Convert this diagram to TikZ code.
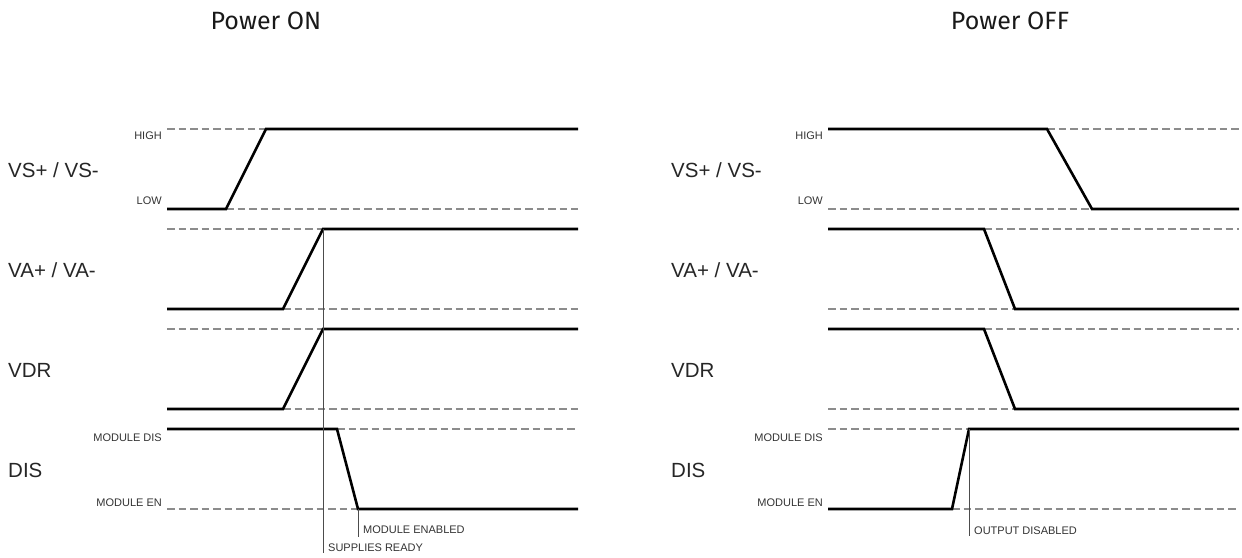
\documentclass[tikz,border=0pt]{standalone}
\usepackage{fontspec}
\setmainfont{Liberation Sans}
\newfontfamily\titlefont{Fira Sans}
\begin{document}
\begin{tikzpicture}[x=1pt,y=-1pt,
  sig/.style={line width=2.6pt, black, line join=miter},
  refline/.style={line width=1.1pt, black!45, dash pattern=on 7.5pt off 4pt},
  marker/.style={line width=0.9pt, black!70},
  siglabel/.style={anchor=west, inner sep=0pt, font=\fontsize{20.5}{24}\selectfont, text=black!85},
  lvl/.style={anchor=east, inner sep=0pt, font=\fontsize{11}{13}\selectfont, text=black!80},
  note/.style={anchor=west, inner sep=0pt, font=\fontsize{11}{13}\selectfont, text=black!80},
  ttl/.style={inner sep=0pt, font=\titlefont\fontsize{25}{30}\selectfont, text=black!90}]
\useasboundingbox (0,0) rectangle (1242,557);

% titles
\node[ttl] (t1) at (266,21) {Power ON};
\node[ttl] (t2) at (1010,21) {Power OFF};

% ===== left panel: Power ON =====
\node[siglabel] (lvs) at (8,170) {VS+ / VS-};
\node[siglabel] (lva) at (8,270) {VA+ / VA-};
\node[siglabel] (lvdr) at (8,370) {VDR};
\node[siglabel] (ldis) at (8,470) {DIS};
\node[lvl] (lhigh) at (162,136) {HIGH};
\node[lvl] (llow) at (162,201) {LOW};
\node[lvl] (lmdis) at (162,438) {MODULE DIS};
\node[lvl] (lmen) at (162,503) {MODULE EN};

\draw[refline] (167,129) -- (266,129);
\draw[refline] (226,209) -- (578,209);
\draw[sig] (167,209) -- (226,209) -- (266,129) -- (578,129);

\draw[refline] (167,229) -- (323,229);
\draw[refline] (283,309) -- (578,309);
\draw[sig] (167,309) -- (283,309) -- (323,229) -- (578,229);

\draw[refline] (167,329) -- (323,329);
\draw[refline] (283,409) -- (578,409);
\draw[sig] (167,409) -- (283,409) -- (323,329) -- (578,329);

\draw[refline] (337,429) -- (578,429);
\draw[refline] (167,509) -- (358,509);
\draw[sig] (167,429) -- (337,429) -- (358,509) -- (578,509);

\coordinate (srtop) at (323,229);
\coordinate (srbot) at (323,553);
\coordinate (metop) at (358,509);
\coordinate (mebot) at (358,537);
\draw[marker] (srtop) -- (srbot);
\draw[marker] (metop) -- (mebot);
\node[note] (sr) at (328,548) {SUPPLIES READY};
\node[note] (me) at (363,530) {MODULE ENABLED};

% ===== right panel: Power OFF =====
\node[siglabel] (rvs) at (671,170) {VS+ / VS-};
\node[siglabel] (rva) at (671,270) {VA+ / VA-};
\node[siglabel] (rvdr) at (671,370) {VDR};
\node[siglabel] (rdis) at (671,470) {DIS};
\node[lvl] (rhigh) at (823,136) {HIGH};
\node[lvl] (rlow) at (823,201) {LOW};
\node[lvl] (rmdis) at (823,438) {MODULE DIS};
\node[lvl] (rmen) at (823,503) {MODULE EN};

\draw[refline] (1047,129) -- (1239,129);
\draw[refline] (828,209) -- (1092,209);
\draw[sig] (828,129) -- (1047,129) -- (1092,209) -- (1239,209);

\draw[refline] (984,229) -- (1239,229);
\draw[refline] (828,309) -- (1015,309);
\draw[sig] (828,229) -- (984,229) -- (1015,309) -- (1239,309);

\draw[refline] (984,329) -- (1239,329);
\draw[refline] (828,409) -- (1015,409);
\draw[sig] (828,329) -- (984,329) -- (1015,409) -- (1239,409);

\draw[refline] (828,429) -- (969,429);
\draw[refline] (952,509) -- (1239,509);
\draw[sig] (828,509) -- (952,509) -- (969,429) -- (1239,429);

\coordinate (odtop) at (969,429);
\coordinate (odbot) at (969,536);
\draw[marker] (odtop) -- (odbot);
\node[note] (od) at (974,531) {OUTPUT DISABLED};
\end{tikzpicture}
\end{document}
